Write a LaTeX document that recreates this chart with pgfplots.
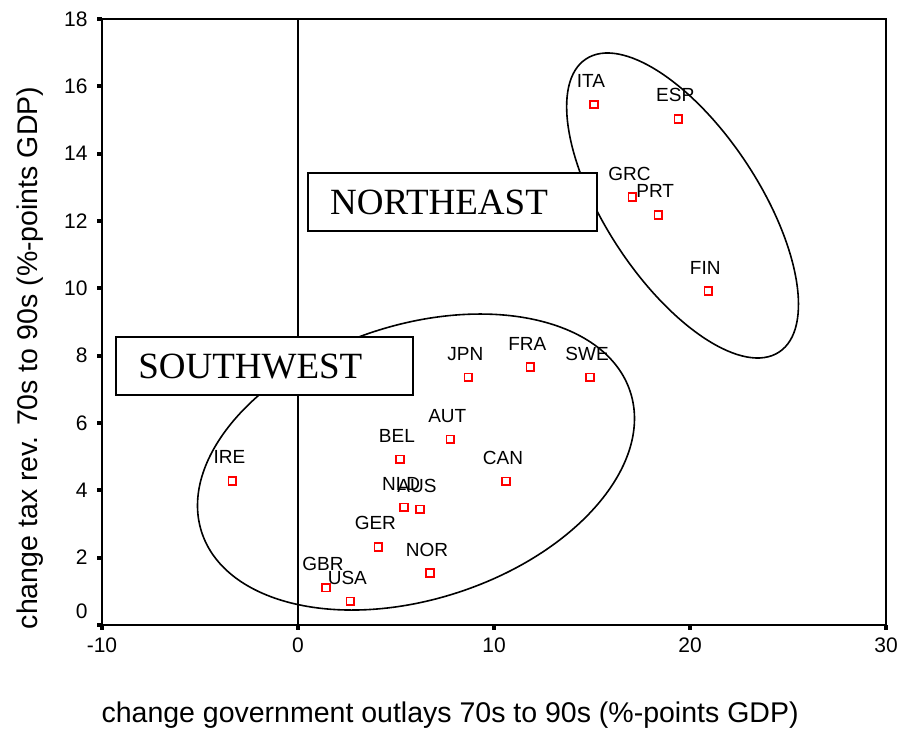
\documentclass[border=0pt]{standalone}
\usepackage{fontspec}
\setmainfont{Liberation Sans}
\newfontfamily\boxfont{Liberation Serif}
\usepackage{pgfplots}
\pgfplotsset{compat=1.18}

\pgfplotstableread{
x      y      lab
-3.35  4.28   IRE
1.43   1.11   GBR
2.67   0.70   USA
4.10   2.32   GER
5.20   4.92   BEL
5.41   3.50   NLD
6.22   3.44   AUS
6.73   1.54   NOR
7.77   5.52   AUT
8.69   7.36   JPN
10.61  4.27   CAN
11.85  7.66   FRA
14.90  7.36   SWE
15.10  15.46  ITA
17.06  12.71  GRC
18.38  12.18  PRT
19.40  15.03  ESP
20.93  9.92   FIN
}\countries

\begin{document}
\begin{tikzpicture}[x=1bp,y=1bp]
\useasboundingbox (0,0) rectangle (900,735);
\begin{axis}[
    at={(102bp,110bp)}, anchor=south west,
    scale only axis,
    width=784bp, height=606bp,
    xmin=-10, xmax=30, ymin=0, ymax=18,
    xtick={-10,0,10,20,30},
    ytick={0,2,...,18},
    yticklabels={\smash{\raisebox{6bp}{0}},2,4,6,8,10,12,14,16,18},
    xtick pos=bottom, ytick pos=left,
    tick align=outside,
    major tick length=5bp,
    tick style={black, line width=4bp},
    xtick style={black, line width=4bp},
    ytick style={black, line width=4bp},
    axis line style={line width=1.6bp},
    /pgf/number format/assume math mode=true,
    ticklabel style={font=\fontsize{21bp}{24bp}\selectfont},
    xticklabel style={yshift=-4bp},
    yticklabel style={xshift=-6bp},
    xlabel={change government outlays 70s to 90s (\%-points GDP)},
    ylabel={change tax rev. 70s to 90s (\%-points GDP)},
    label style={font=\fontsize{28.5bp}{32bp}\selectfont},
    x label style={at={(axis description cs:0.444,-0.1485)}, anchor=center},
    y label style={at={(axis description cs:-0.0918,0.4406)}, anchor=center},
]

% reference line at zero
\draw[line width=1.3bp] (axis cs:0,0) -- (axis cs:0,18);

% group outlines
\draw[line width=1.6bp, rotate around={18.2:(axis cs:6.02,4.84)}]
    (axis cs:6.02,4.84) ellipse [x radius=225.5bp, y radius=137bp];
\draw[line width=1.6bp, rotate around={-56.6:(axis cs:19.62,12.46)}]
    (axis cs:19.62,12.46) ellipse [x radius=175.5bp, y radius=76.7bp];

% group names
\draw[fill=white, line width=1.6bp] (axis cs:0.51,13.42) rectangle (axis cs:15.26,11.70);
\node[anchor=west, inner sep=0pt, font=\boxfont\fontsize{37bp}{40bp}\selectfont]
    at (axis cs:1.63,12.56) {NORTHEAST};
\draw[fill=white, line width=1.6bp] (axis cs:-9.29,8.55) rectangle (axis cs:5.87,6.83);
\node[anchor=west, inner sep=0pt, font=\boxfont\fontsize{37bp}{40bp}\selectfont]
    at (axis cs:-8.16,7.69) {SOUTHWEST};

\addplot[only marks, mark=square, mark size=3.8bp, red,
    mark options={line width=1.7bp},
    nodes near coords, point meta=explicit symbolic,
    every node near coord/.append style={black, anchor=base, inner sep=0pt,
        yshift=17bp, xshift=-3bp, font=\fontsize{19bp}{22bp}\selectfont}]
    table[x=x, y=y, meta=lab] {\countries};

\end{axis}
\end{tikzpicture}
\end{document}
